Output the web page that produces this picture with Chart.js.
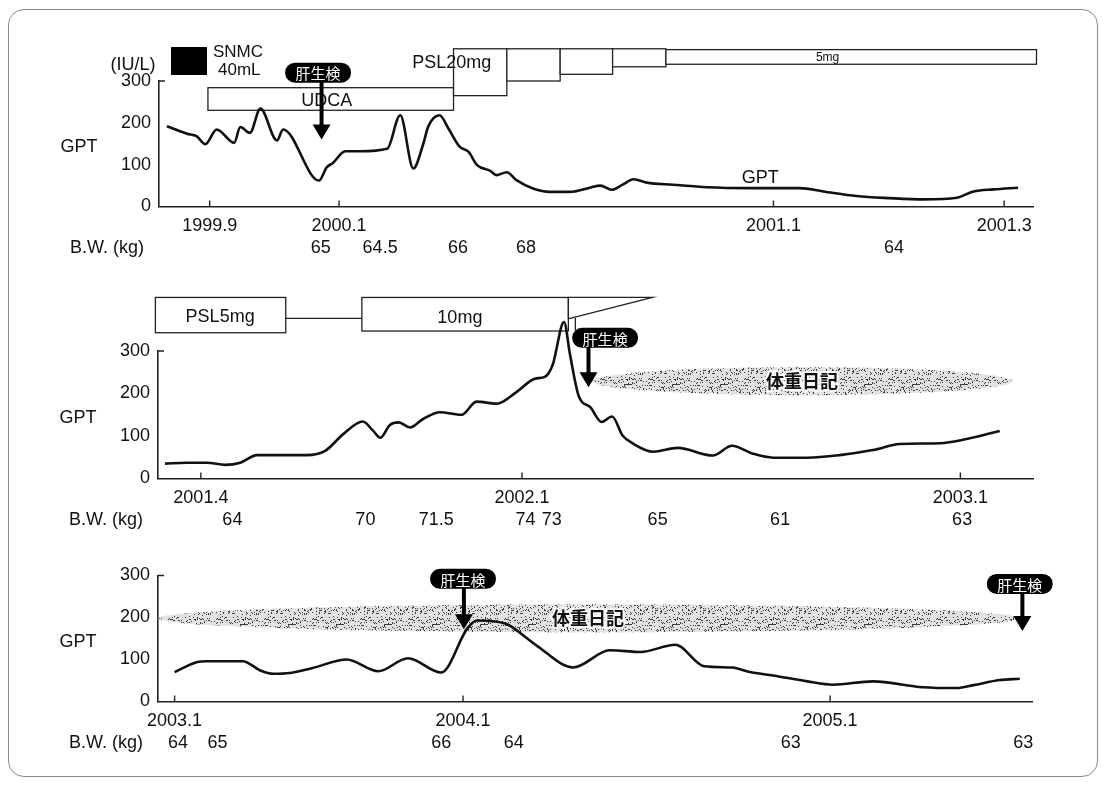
<!DOCTYPE html>
<html>
<head>
<meta charset="utf-8">
<script src="https://cdn.jsdelivr.net/npm/chart.js@4.4.1/dist/chart.umd.min.js"></script>
<style>
  html, body { margin: 0; padding: 0; background: #fff; }
  #wrap { position: relative; width: 1106px; height: 785px; overflow: hidden; }
  #wrap canvas { position: absolute; left: 0; top: 0; }
  #frame { position: absolute; left: 8px; top: 9px; width: 1088px; height: 766px;
           border: 1px solid #8a8a8a; border-radius: 16px; }
</style>
</head>
<body>
<div id="wrap">
  <div id="frame"></div>
  <canvas id="c1" width="1106" height="785"></canvas>
  <canvas id="c2" width="1106" height="785"></canvas>
  <canvas id="c3" width="1106" height="785"></canvas>
</div>
<script>
// x軸は各段の横軸に対する位置 (0-100)、y は GPT (IU/L)

// --- 1段目 1999.9 - 2001.3
const gptX1 = [0.9, 3.2, 4.3, 5.3, 6.6, 8.6, 9.3, 10.4, 11.6, 13.5, 14.2, 18.3, 19.2, 19.9, 21.3, 23.0, 26.1,
  27.6, 29.1, 30.2, 30.8, 32.1, 33.1, 34.4, 35.4, 36.4, 37.9, 38.6, 39.8, 40.9, 42.8, 44.7, 47.0, 49.3, 50.5,
  51.8, 53.1, 54.3, 55.8, 58.8, 62.7, 67.6, 73.3, 76.0, 79.8, 83.6, 87.5, 91.3, 93.2, 95.5, 98.3];
const gptY1 = [192, 174, 168, 149, 184, 152, 190, 176, 234, 158, 184, 62, 94, 104, 132, 132, 138,
  218, 91, 147, 191, 218, 187, 143, 131, 99, 85, 75, 82, 63, 43, 35, 35, 45, 50,
  40, 53, 65, 57, 52, 46, 44, 44, 36, 25, 20, 17, 21, 36, 41, 45];
const tickPos1 = [5.8, 20.6, 70.3, 96.7];
const tickLabels1 = ['1999.9', '2000.1', '2001.1', '2001.3'];
const bwPos1 = [18.5, 25.3, 34.2, 42.0, 84.1];
const bwLabels1 = ['65', '64.5', '66', '68', '64'];
const udca1 = [5.6, 33.7];
const psl1 = [[33.7, 39.8], [39.8, 45.9], [45.9, 51.9], [51.9, 58.0], [58.0, 100.4]];
const biopsy1 = [18.6];

// --- 2段目 2001.4 - 2003.1
const gptX2 = [0.8, 3.3, 5.6, 7.7, 9.4, 11.3, 13.2, 17.0, 19.1, 21.2, 23.4, 24.6, 25.4, 26.5, 27.5, 28.8,
  30.3, 32.2, 34.7, 36.4, 38.7, 41.0, 43.1, 44.2, 45.1, 46.4, 47.1, 48.1, 49.4, 50.7, 51.9, 53.1, 54.3,
  56.6, 59.4, 63.4, 65.6, 67.9, 70.3, 74.2, 77.9, 81.7, 84.8, 89.4, 92.0, 96.2];
const gptY2 = [35, 37, 37, 32, 37, 55, 55, 55, 65, 105, 134, 112, 96, 126, 132, 120,
  140, 156, 150, 181, 176, 204, 235, 239, 267, 368, 290, 193, 168, 133, 146, 101, 82,
  63, 72, 54, 77, 59, 49, 49, 55, 67, 81, 83, 91, 112];
const tickPos2 = [4.9, 41.6, 91.7];
const tickLabels2 = ['2001.4', '2002.1', '2003.1'];
const bwPos2 = [8.5, 23.7, 31.8, 42.0, 45.0, 57.1, 71.1, 91.9];
const bwLabels2 = ['64', '70', '71.5', '74', '73', '65', '61', '63'];
const psl2 = [[-0.3, 14.6], [23.3, 46.9]];
const diary2 = [49.7, 97.6];
const biopsy2 = [49.2];

// --- 3段目 2003.1 - 2005
const gptX3 = [1.9, 4.5, 5.6, 9.7, 11.7, 13.2, 15.1, 17.7, 21.6, 25.2, 28.6, 32.4, 35.4, 36.5, 39.7, 40.3,
  43.4, 47.5, 51.7, 55.2, 59.2, 62.5, 65.7, 67.7, 70.4, 74.3, 77.2, 81.8, 87.5, 91.4, 93.3, 96.3, 98.6];
const gptY3 = [70, 94, 96, 96, 74, 66, 68, 80, 100, 72, 103, 69, 174, 193, 186, 180,
  132, 81, 122, 118, 135, 84, 81, 70, 62, 48, 40, 48, 34, 32, 39, 51, 54];
const tickPos3 = [1.9, 34.9, 76.9];
const tickLabels3 = ['2003.1', '2004.1', '2005.1'];
const bwPos3 = [2.3, 6.8, 32.4, 40.7, 72.4, 99.0];
const bwLabels3 = ['64', '65', '66', '64', '63', '63'];
const diary3 = [0, 98.6];
const biopsy3 = [35.0, 98.9];

const FONT = '"Liberation Sans", Arial, Helvetica, sans-serif';
const JFONT = '"Noto Sans CJK JP", "Noto Sans CJK SC", sans-serif';

// 点描の模様（体重日記）
function speckle(ctx) {
  const c = document.createElement('canvas');
  c.width = 48; c.height = 48;
  const g = c.getContext('2d');
  g.fillStyle = '#e2e2e2';
  g.fillRect(0, 0, 48, 48);
  g.fillStyle = '#3c3c3c';
  for (let i = 0; i < 48; i++) {
    for (let j = 0; j < 48; j++) {
      const h = Math.abs((i * 73856093) ^ (j * 19349663)) % 97;
      if (h < 15) g.fillRect(i, j, 1, 1);
    }
  }
  return ctx.createPattern(c, 'repeat');
}

function rect(ctx, x1, y1, x2, y2) {
  ctx.fillStyle = '#fff';
  ctx.fillRect(x1, y1, x2 - x1, y2 - y1);
  ctx.strokeStyle = '#222';
  ctx.lineWidth = 1.3;
  ctx.strokeRect(x1, y1, x2 - x1, y2 - y1);
}

function text(ctx, s, x, y, size, font, align, weight) {
  ctx.fillStyle = '#111';
  ctx.font = (weight || '') + ' ' + size + 'px ' + (font || FONT);
  ctx.textAlign = align || 'center';
  ctx.textBaseline = 'middle';
  ctx.fillText(s, x, y);
}

function biopsy(ctx, px, py, ax, tipY) {
  const w = 66, h = 20;
  ctx.fillStyle = '#000';
  ctx.beginPath();
  ctx.roundRect(px - w / 2, py - h / 2, w, h, h / 2);
  ctx.fill();
  ctx.fillStyle = '#fff';
  ctx.font = '15px ' + JFONT;
  ctx.textAlign = 'center';
  ctx.textBaseline = 'middle';
  ctx.fillText('肝生検', px, py + 1);
  // 矢印
  const head = 15, hw = 9;
  ctx.fillStyle = '#000';
  ctx.fillRect(ax - 2, py + h / 2 - 1, 4, tipY - head - (py + h / 2) + 2);
  ctx.beginPath();
  ctx.moveTo(ax - hw, tipY - head);
  ctx.lineTo(ax + hw, tipY - head);
  ctx.lineTo(ax, tipY);
  ctx.closePath();
  ctx.fill();
}

function diary(ctx, x1, x2, cy, label, lx) {
  ctx.save();
  ctx.fillStyle = speckle(ctx);
  ctx.beginPath();
  ctx.ellipse((x1 + x2) / 2, cy, (x2 - x1) / 2, 14, 0, 0, Math.PI * 2);
  ctx.fill();
  ctx.font = 'bold 18px ' + JFONT;
  ctx.textAlign = 'center';
  ctx.textBaseline = 'middle';
  ctx.lineWidth = 4;
  ctx.strokeStyle = 'rgba(255,255,255,0.85)';
  ctx.strokeText(label, lx, cy);
  ctx.fillStyle = '#111';
  ctx.fillText(label, lx, cy);
  ctx.restore();
}

function makePanel(id, p) {
  const W = 1106, H = 785, yW = 60, xH = 40;
  const decor = {
    id: 'decor',
    beforeDatasetsDraw(chart) {
      const ctx = chart.ctx, X = v => chart.scales.x.getPixelForValue(v), Y = v => chart.scales.y.getPixelForValue(v);
      ctx.save();
      p.under(ctx, X, Y);
      ctx.restore();
    },
    afterDatasetsDraw(chart) {
      const ctx = chart.ctx, a = chart.chartArea;
      const X = v => chart.scales.x.getPixelForValue(v), Y = v => chart.scales.y.getPixelForValue(v);
      ctx.save();
      // 内向きの目盛
      ctx.strokeStyle = '#222';
      ctx.lineWidth = 1.4;
      ctx.beginPath();
      p.ticks.forEach(v => { ctx.moveTo(X(v), a.bottom); ctx.lineTo(X(v), a.bottom - 6); });
      ctx.moveTo(a.left, Y(300)); ctx.lineTo(a.left + 6, Y(300));
      ctx.stroke();
      text(ctx, 'GPT', a.left - 80, Y(142), 18);
      text(ctx, 'B.W. (kg)', a.left - 89, a.bottom + 42, 18, FONT, 'left');
      p.bw.forEach((v, i) => text(ctx, p.bwLabels[i], X(v), a.bottom + 42, 18));
      p.over(ctx, X, Y);
      ctx.restore();
    }
  };
  return new Chart(document.getElementById(id), {
    type: 'line',
    data: {
      datasets: [{
        data: p.x.map((v, i) => ({ x: v, y: p.y[i] })),
        borderColor: '#111',
        borderWidth: 2.6,
        pointRadius: 0,
        cubicInterpolationMode: 'monotone',
        clip: false,
        fill: false
      }]
    },
    options: {
      responsive: false,
      animation: false,
      devicePixelRatio: 1,
      layout: { padding: { left: p.area[0] - yW, right: W - p.area[1], top: p.area[2], bottom: H - p.area[3] - xH } },
      plugins: { legend: { display: false }, tooltip: { enabled: false } },
      scales: {
        x: {
          type: 'linear', min: 0, max: 100,
          grid: { display: false, drawTicks: false },
          border: { display: true, color: '#222', width: 1.6 },
          afterBuildTicks: s => { s.ticks = p.ticks.map(v => ({ value: v })); },
          afterFit: s => { s.height = xH; },
          ticks: { autoSkip: false, maxRotation: 0, padding: 9, color: '#111',
                   font: { family: FONT, size: 18 }, callback: (v, i) => p.tickLabels[i] }
        },
        y: {
          min: 0, max: 300,
          grid: { display: false, drawTicks: false },
          border: { display: true, color: '#222', width: 1.6 },
          afterFit: s => { s.width = yW; },
          ticks: { stepSize: 100, padding: 8, color: '#111', font: { family: FONT, size: 18 } }
        }
      }
    },
    plugins: [decor]
  });
}

// 1段目
makePanel('c1', {
  area: [159, 1033, 81, 206.5],
  x: gptX1, y: gptY1, ticks: tickPos1, tickLabels: tickLabels1, bw: bwPos1, bwLabels: bwLabels1,
  under(ctx, X, Y) {
    rect(ctx, X(udca1[0]), Y(284), X(udca1[1]), Y(230));
    const bottoms = [265, 300, 316, 334, 340];
    psl1.forEach((d, i) => rect(ctx, X(d[0]), Y(i === 4 ? 375 : 377), X(d[1]), Y(bottoms[i])));
    text(ctx, 'UDCA', X(19.2), Y(251), 18);
    text(ctx, 'PSL20mg', X(33.5), Y(344), 18);
    text(ctx, '5mg', X(76.5), Y(356), 12);
  },
  over(ctx, X, Y) {
    biopsy(ctx, X(18.2), Y(320), X(biopsy1[0]), Y(160));
    text(ctx, 'GPT', X(68.8), Y(68), 18);
    ctx.fillStyle = '#000';
    ctx.fillRect(171, 47, 36, 28);
    text(ctx, 'SNMC', 213, 52, 17, FONT, 'left');
    text(ctx, '40mL', 218, 70, 17, FONT, 'left');
    text(ctx, '(IU/L)', 133, 65, 18);
  }
});

// 2段目
makePanel('c2', {
  area: [158, 1033, 351, 478.5],
  x: gptX2, y: gptY2, ticks: tickPos2, tickLabels: tickLabels2, bw: bwPos2, bwLabels: bwLabels2,
  under(ctx, X, Y) {
    rect(ctx, X(psl2[0][0]), Y(426), X(psl2[0][1]), Y(343));
    ctx.strokeStyle = '#222';
    ctx.lineWidth = 1.3;
    ctx.beginPath();
    ctx.moveTo(X(psl2[0][1]), Y(377)); ctx.lineTo(X(psl2[1][0]), Y(377));
    ctx.stroke();
    rect(ctx, X(psl2[1][0]), Y(426), X(psl2[1][1]), Y(347));
    // 漸減
    ctx.fillStyle = '#fff';
    ctx.beginPath();
    ctx.moveTo(X(46.9), Y(426)); ctx.lineTo(X(56.5), Y(426));
    ctx.lineTo(X(47.1), Y(377)); ctx.lineTo(X(46.9), Y(377)); ctx.closePath();
    ctx.fill(); ctx.stroke();
    ctx.beginPath();
    ctx.moveTo(X(47.7), Y(378)); ctx.lineTo(X(47.7), Y(348));
    ctx.stroke();
    text(ctx, 'PSL5mg', X(7.1), Y(381), 18);
    text(ctx, '10mg', X(34.5), Y(377), 18);
    diary(ctx, X(diary2[0]), X(diary2[1]), Y(229), '体重日記', X(73.6));
  },
  over(ctx, X, Y) {
    biopsy(ctx, X(51.1), Y(331), X(biopsy2[0]), Y(215));
  }
});

// 3段目
makePanel('c3', {
  area: [158, 1032, 575.5, 701.5],
  x: gptX3, y: gptY3, ticks: tickPos3, tickLabels: tickLabels3, bw: bwPos3, bwLabels: bwLabels3,
  under(ctx, X, Y) {
    diary(ctx, X(diary3[0]), X(diary3[1]), Y(198), '体重日記', X(49.2));
  },
  over(ctx, X, Y) {
    biopsy(ctx, X(34.9), Y(292), X(biopsy3[0]), Y(172));
    biopsy(ctx, X(98.6), Y(280), X(biopsy3[1]), Y(168));
  }
});
</script>
</body>
</html>
